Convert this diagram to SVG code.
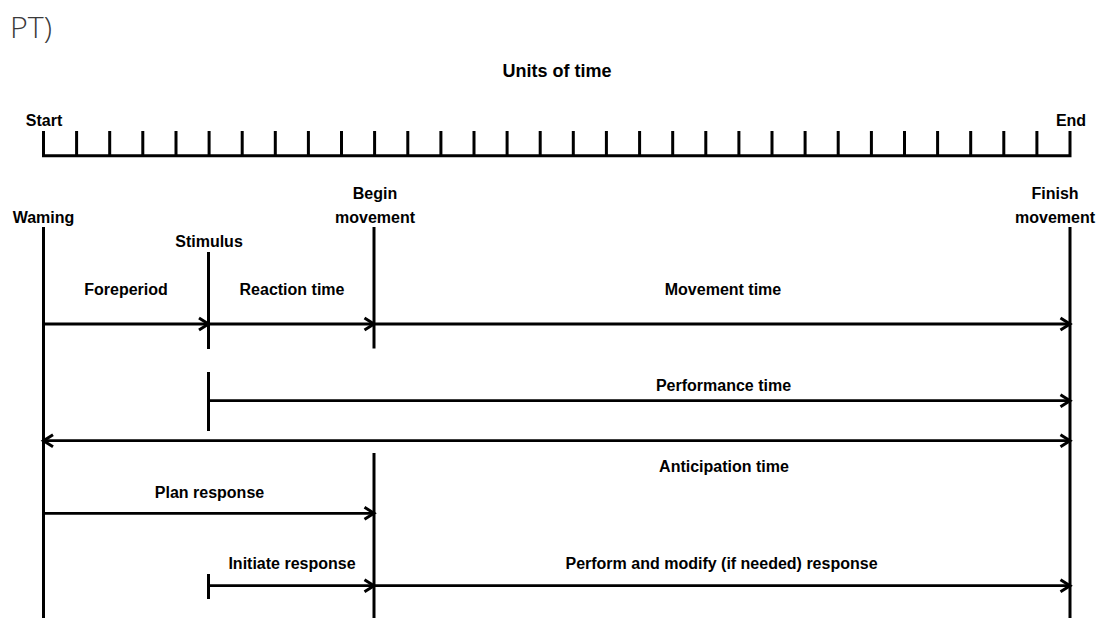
<svg xmlns="http://www.w3.org/2000/svg" width="1098" height="618" viewBox="0 0 1098 618">
<style>
  .lbl { font-family: "Liberation Sans", Arial, sans-serif; font-weight: bold; font-size: 16px; fill: #000; text-anchor: middle; }
  .ln { stroke: #000; stroke-width: 3; fill: none; }
  .ar { stroke: #000; stroke-width: 2.8; fill: none; marker-end: url(#head); }
</style>
<defs>
  <marker id="head" markerUnits="userSpaceOnUse" viewBox="-12 -8 14 16" refX="0" refY="0" markerWidth="14" markerHeight="16" orient="auto-start-reverse" overflow="visible">
    <path d="M-9.5,-6 L0,0 L-9.5,6" fill="none" stroke="#000" stroke-width="3" stroke-linejoin="miter"/>
  </marker>
</defs>
<rect width="1098" height="618" fill="#fff"/>
<text x="10" y="38" font-family="'Open Sans', 'Liberation Sans', sans-serif" font-weight="300" font-size="30" fill="#3a3a3a" textLength="42" lengthAdjust="spacingAndGlyphs">PT)</text>

<g id="time-ruler">
  <text class="lbl" x="557" y="76.5" style="font-size:18px">Units of time</text>
  <text class="lbl" x="44" y="125.5">Start</text>
  <text class="lbl" x="1071" y="125.5">End</text>
  <path class="ln" d="M43.5,131 V155.7 H1070 V131" stroke-linejoin="miter"/>
  <path class="ln" d="M76.6,131V155.7M109.7,131V155.7M142.8,131V155.7M176,131V155.7M209.1,131V155.7M242.2,131V155.7M275.3,131V155.7M308.4,131V155.7M341.5,131V155.7M374.6,131V155.7M407.8,131V155.7M440.9,131V155.7M474,131V155.7M507.1,131V155.7M540.2,131V155.7M573.3,131V155.7M606.4,131V155.7M639.6,131V155.7M672.7,131V155.7M705.8,131V155.7M738.9,131V155.7M772,131V155.7M805.1,131V155.7M838.2,131V155.7M871.4,131V155.7M904.5,131V155.7M937.6,131V155.7M970.7,131V155.7M1003.8,131V155.7M1036.9,131V155.7"/>
</g>

<g id="warning">
  <text class="lbl" x="43.5" y="222.5">Waming</text>
  <line class="ln" x1="43.5" y1="227" x2="43.5" y2="618"/>
</g>
<g id="stimulus">
  <text class="lbl" x="209" y="246.7">Stimulus</text>
  <line class="ln" x1="208.5" y1="252" x2="208.5" y2="349"/>
  <line class="ln" x1="208.5" y1="372" x2="208.5" y2="431"/>
  <line class="ln" x1="208.5" y1="574" x2="208.5" y2="599"/>
</g>
<g id="begin-movement">
  <text class="lbl" x="375" y="199.3">Begin</text>
  <text class="lbl" x="375" y="222.5">movement</text>
  <line class="ln" x1="374" y1="227" x2="374" y2="348.5"/>
  <line class="ln" x1="374" y1="453" x2="374" y2="618"/>
</g>
<g id="finish-movement">
  <text class="lbl" x="1055" y="199.3">Finish</text>
  <text class="lbl" x="1055" y="222.5">movement</text>
  <line class="ln" x1="1070" y1="227" x2="1070" y2="618"/>
</g>

<g id="interval-labels">
  <text class="lbl" x="126" y="295">Foreperiod</text>
  <text class="lbl" x="292" y="295">Reaction time</text>
  <text class="lbl" x="723" y="295">Movement time</text>
  <text class="lbl" x="723.5" y="391">Performance time</text>
  <text class="lbl" x="724" y="471.5">Anticipation time</text>
  <text class="lbl" x="209.5" y="497.7">Plan response</text>
  <text class="lbl" x="292" y="569.3">Initiate response</text>
  <text class="lbl" x="721.5" y="569.3">Perform and modify (if needed) response</text>
</g>

<g id="connectors">
  <line class="ar" x1="43.5" y1="324" x2="208.5" y2="324"/>
  <line class="ar" x1="208.5" y1="324" x2="374" y2="324"/>
  <line class="ar" x1="374" y1="324" x2="1070" y2="324"/>
  <line class="ar" x1="208.5" y1="400.7" x2="1070" y2="400.7"/>
  <line class="ar" x1="43.5" y1="440.7" x2="1070" y2="440.7" marker-start="url(#head)"/>
  <line class="ar" x1="43.5" y1="513.3" x2="374" y2="513.3"/>
  <line class="ar" x1="208.5" y1="585.7" x2="374" y2="585.7"/>
  <line class="ar" x1="374" y1="585.7" x2="1070" y2="585.7"/>
</g>
</svg>
